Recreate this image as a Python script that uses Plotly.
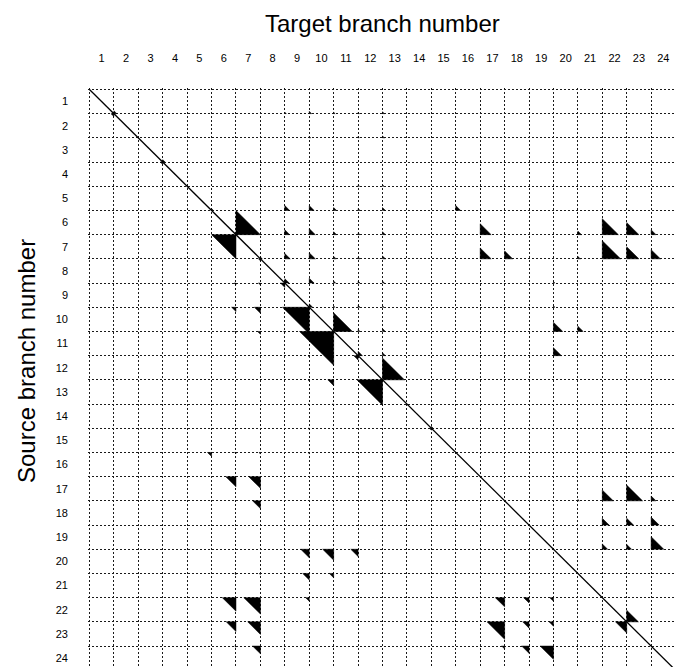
import plotly.graph_objects as go

# ---- data -------------------------------------------------------------
branch_labels = [str(i) for i in range(1, 25)]

# upper triangle (source < target): connection strength as fraction of a cell
up_src = [1, 3, 5, 6, 7, 8, 9, 10, 11, 12, 14, 22,
          1, 5, 6, 7,
          1, 2, 5, 6, 7, 8,
          1, 5, 6, 7, 8, 9,
          1, 2, 4, 5, 6, 7, 8, 9, 10,
          1, 2, 4, 5, 6, 7, 8, 9, 10, 11,
          5,
          6, 7,
          7,
          8, 9, 10, 11,
          6, 7, 10, 17,
          6, 7, 17, 18, 19,
          6, 7, 17, 18, 19,
          6, 7, 17, 18, 19]
up_tgt = [2, 4, 6, 7, 8, 9, 10, 11, 12, 13, 15, 23,
          9, 9, 9, 9,
          10, 10, 10, 10, 10, 10,
          11, 11, 11, 11, 11, 11,
          12, 12, 12, 12, 12, 12, 12, 12, 12,
          13, 13, 13, 13, 13, 13, 13, 13, 13, 13,
          16,
          17, 17,
          18,
          20, 20, 20, 20,
          21, 21, 21, 21,
          22, 22, 22, 22, 22,
          23, 23, 23, 23, 23,
          24, 24, 24, 24, 24]
up_val = [0.12, 0.10, 0.08, 1.00, 0.08, 0.18, 0.14, 0.77, 0.18, 0.90, 0.08, 0.48,
          0.06, 0.20, 0.20, 0.22,
          0.10, 0.06, 0.20, 0.25, 0.25, 0.20,
          0.06, 0.12, 0.12, 0.10, 0.08, 0.05,
          0.06, 0.05, 0.06, 0.08, 0.08, 0.08, 0.08, 0.08, 0.08,
          0.08, 0.08, 0.06, 0.12, 0.12, 0.12, 0.08, 0.06, 0.12, 0.12,
          0.20,
          0.45, 0.45,
          0.33,
          0.06, 0.06, 0.38, 0.33,
          0.15, 0.10, 0.22, 0.06,
          0.66, 0.75, 0.45, 0.28, 0.22,
          0.50, 0.50, 0.65, 0.28, 0.20,
          0.20, 0.38, 0.20, 0.33, 0.52]

# lower triangle (source > target)
lo_src = [2, 4, 7, 8, 9, 10, 11, 12, 13, 15, 23,
          9, 9, 10, 10, 11, 11, 11, 12, 13, 13, 14, 14, 15,
          16, 16, 16, 16, 16,
          17, 17, 18, 20, 20, 20, 21, 21, 21, 21,
          22, 22, 22, 23, 23, 24, 24,
          22, 22, 22, 23, 23, 23, 24, 24, 24]
lo_tgt = [1, 3, 6, 7, 8, 9, 10, 11, 12, 14, 22,
          6, 7, 6, 7, 6, 7, 8, 9, 9, 10, 9, 10, 9,
          5, 6, 7, 9, 10,
          6, 7, 7, 9, 10, 11, 6, 7, 9, 10,
          6, 7, 9, 6, 7, 6, 7,
          17, 18, 19, 17, 18, 19, 17, 18, 19]
lo_val = [0.12, 0.10, 1.00, 0.08, 0.18, 1.10, 1.40, 0.18, 1.05, 0.08, 0.46,
          0.08, 0.08, 0.18, 0.25, 0.06, 0.12, 0.05, 0.05, 0.05, 0.24, 0.05, 0.05, 0.05,
          0.17, 0.06, 0.06, 0.05, 0.05,
          0.42, 0.48, 0.32, 0.35, 0.45, 0.30, 0.05, 0.05, 0.27, 0.18,
          0.56, 0.68, 0.15, 0.40, 0.52, 0.05, 0.32,
          0.38, 0.22, 0.15, 0.72, 0.26, 0.18, 0.12, 0.30, 0.55]

# ---- build triangles ----------------------------------------------------
tx, ty = [], []
for s, t, v in zip(up_src, up_tgt, up_val):
    # right angle at the bottom-left corner of cell (s, t), legs up and right
    x0, y0 = t - 1, s
    tx += [x0, x0, x0 + v, x0, None]
    ty += [y0, y0 - v, y0, y0, None]
for s, t, v in zip(lo_src, lo_tgt, lo_val):
    # right angle at the top-right corner of cell (s, t), legs left and down
    x0, y0 = t, s - 1
    tx += [x0, x0 - v, x0, x0, None]
    ty += [y0, y0, y0 + v, y0, None]

n = len(branch_labels)
centers = [i + 0.5 for i in range(n)]
grid_vals = list(range(n + 1))

fig = go.Figure()
fig.add_trace(go.Scatter(x=[0, n], y=[0, n], mode="lines",
                         line=dict(color="black", width=1.3),
                         hoverinfo="skip", showlegend=False))
fig.add_trace(go.Scatter(x=tx, y=ty, mode="lines", fill="toself",
                         fillcolor="black", line=dict(color="black", width=0.5),
                         hoverinfo="skip", showlegend=False))

FONT = "Liberation Sans, Arial, Helvetica, sans-serif"
grid_style = dict(tickmode="array", tickvals=grid_vals, showgrid=True,
                  gridcolor="#1a1a1a", gridwidth=1, griddash="2px,2px", ticks="")

W, H = 675, 667
PAD = 0.06                      # small pad so the outer grid lines are drawn
cell_w = 24.42
cell_h = 24.2
ML = round(89 - PAD * cell_w)
MT = round(89 - PAD * cell_h)
plot_w = W - ML
plot_h = H - MT
x_hi = plot_w / cell_w - PAD
y_hi = plot_h / cell_h - PAD

fig.update_layout(
    width=W, height=H,
    margin=dict(l=ML, r=0, t=MT, b=0),
    paper_bgcolor="white", plot_bgcolor="white",
    font=dict(family=FONT, color="black"),
    xaxis=dict(range=[-PAD, x_hi], side="top", tickvals=centers, ticktext=branch_labels,
               showgrid=False, zeroline=False, showline=False, ticks="",
               tickfont=dict(size=11, family=FONT, color="black"),
               ticklabelstandoff=23, minor=grid_style, fixedrange=True),
    yaxis=dict(range=[y_hi, -PAD], tickvals=centers, ticktext=branch_labels,
               showgrid=False, zeroline=False, showline=False, ticks="",
               tickfont=dict(size=11, family=FONT, color="black"),
               ticklabelstandoff=19, minor=grid_style, fixedrange=True),
    annotations=[
        dict(text="Target branch number", xref="paper", yref="paper",
             x=(383 - ML) / plot_w, y=1 + (MT - 24) / plot_h,
             xanchor="center", yanchor="middle",
             showarrow=False, font=dict(size=24, family=FONT, color="black")),
        dict(text="Source branch number", xref="paper", yref="paper",
             x=(26 - ML) / plot_w, y=(H - 361) / plot_h, xanchor="center",
             yanchor="middle", textangle=-90, showarrow=False,
             font=dict(size=24, family=FONT, color="black")),
    ],
)

fig.write_html("out.html")
